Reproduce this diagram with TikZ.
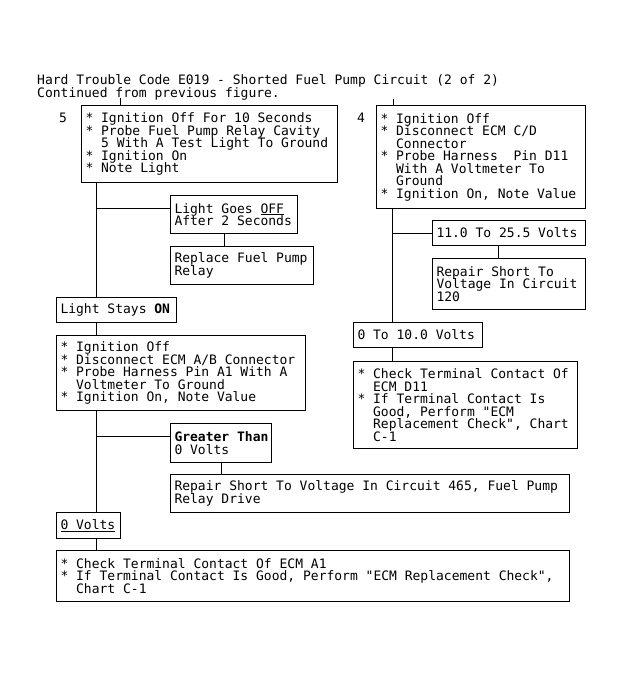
\documentclass[tikz,border=0pt]{standalone}
\usepackage{fontspec}
\setmonofont{DejaVu Sans Mono}
\newcommand{\txtfont}{\ttfamily\fontsize{13}{12.5}\selectfont\lineskiplimit=-20pt\lineskip=0pt\hyphenpenalty=10000\exhyphenpenalty=10000\relax}
\newcommand{\fixsp}{\spaceskip=\fontdimen2\font\xspaceskip=\fontdimen2\font\relax}
\newcommand{\bul}{*\ }
\newcommand{\ind}{\phantom{*}\ }
\begin{document}
\begin{tikzpicture}[x=1pt,y=-1pt,
  box/.style={draw, line width=1pt, anchor=north west, align=left,
    inner xsep=4pt, inner ysep=0pt, font=\txtfont},
  lbl/.style={anchor=base, inner sep=0pt, font=\txtfont},
  ttl/.style={anchor=base west, inner sep=0pt, font=\txtfont},
  link/.style={draw, line width=1pt}]
\fill[white] (0,0) rectangle (623,677);
\useasboundingbox (0,0) rectangle (623,677);

% title
\node[ttl] (title1) at (37,84.75) {Hard Trouble Code E019 - Shorted Fuel Pump Circuit (2 of 2)};
\node[ttl] (title2) at (37,97.5) {Continued from previous figure.};

% step labels
\node[lbl] (n5) at (63,122.75) {5};
\node[lbl] (n4) at (361,122.75) {4};

% left column
\node[box, text width=248pt, minimum height=77pt] (b5) at (81,105)
  {\fixsp\bul Ignition Off For 10 Seconds\\\bul Probe Fuel Pump Relay Cavity\\\ind 5 With A Test Light To Ground\\\bul Ignition On\\\bul Note Light};
\node[box, text width=119pt, minimum height=38pt] (lgo) at (170,195)
  {\fixsp Light Goes \underline{OFF}\\After 2 Seconds};
\node[box, text width=135pt, minimum height=38pt] (rfp) at (170,246)
  {\fixsp Replace Fuel Pump\\Relay};
\node[box, text width=112pt, minimum height=25pt] (lso) at (56,297)
  {\fixsp Light~Stays~{\bfseries ON}};
\node[box, text width=241pt, minimum height=75pt] (io) at (56,335)
  {\fixsp\bul Ignition Off\\\bul Disconnect ECM A/B Connector\\\bul Probe Harness Pin A1 With A\\\ind Voltmeter To Ground\\\bul Ignition On, Note Value};
\node[box, text width=93pt, minimum height=39pt] (gt) at (170,423)
  {\fixsp{\bfseries Greater~Than}\\0 Volts};
\node[box, text width=391pt, minimum height=38pt] (r465) at (170,474)
  {\fixsp Repair Short To Voltage In Circuit 465, Fuel Pump\\Relay Drive};
\node[box, text width=56pt, minimum height=26pt] (ov) at (56,512)
  {\fixsp\underline{0~Volts}};
\node[box, text width=505pt, minimum height=51pt] (fin) at (56,550)
  {\fixsp\bul Check Terminal Contact Of ECM A1\\\bul If Terminal Contact Is Good, Perform "ECM Replacement Check",\\\ind Chart C-1};

% right column
\node[box, text width=201pt, minimum height=103pt] (b4) at (376,105)
  {\fixsp\bul Ignition Off\\\bul Disconnect ECM C/D\\\ind Connector\\\bul Probe Harness\ \ Pin D11\\\ind With A Voltmeter To\\\ind Ground\\\bul Ignition On, Note Value};
\node[box, text width=145pt, minimum height=25pt] (v11) at (432,220)
  {\fixsp 11.0~To~25.5~Volts};
\node[box, text width=145pt, minimum height=51pt] (r120) at (432,258)
  {\fixsp Repair Short To\\Voltage~In~Circuit\\120};
\node[box, text width=121pt, minimum height=25pt] (z10) at (353,322)
  {\fixsp 0~To~10.0~Volts};
\node[box, text width=216pt, minimum height=87pt] (ctd) at (353,361)
  {\fixsp\bul Check Terminal Contact Of\\\ind ECM D11\\\bul If Terminal Contact Is\\\ind Good, Perform "ECM\\\ind Replacement Check", Chart\\\ind C-1};

% spine coordinates
\coordinate (t5) at (120,98);
\coordinate (t4) at (393,99);
\coordinate (sL) at (96,0);
\coordinate (sR) at (392,0);
\coordinate (cx1) at (224,0);
\coordinate (cx2) at (498,0);
\coordinate (lgoin) at ([yshift=-13pt]lgo.north west);
\coordinate (gtin) at ([yshift=-13pt]gt.north west);

% connectors left
\draw[link] (t5) -- (t5 |- b5.north);
\draw[link] (b5.south -| sL) -- (lso.north -| sL);
\draw[link] (lgoin -| sL) -- (lgoin);
\draw[link] (lgo.south -| cx1) -- (rfp.north -| cx1);
\draw[link] (lso.south -| sL) -- (io.north -| sL);
\draw[link] (io.south -| sL) -- (ov.north -| sL);
\draw[link] (gtin -| sL) -- (gtin);
\draw[link] (gt.south) -- (r465.north -| gt.south);
\draw[link] (ov.south -| sL) -- (fin.north -| sL);

% connectors right
\draw[link] (t4) -- (t4 |- b4.north);
\draw[link] (b4.south -| sR) -- (z10.north -| sR);
\draw[link] (v11.west -| sR) -- (v11.west);
\draw[link] (v11.south -| cx2) -- (r120.north -| cx2);
\draw[link] (z10.south -| sR) -- (ctd.north -| sR);
\end{tikzpicture}
\end{document}
